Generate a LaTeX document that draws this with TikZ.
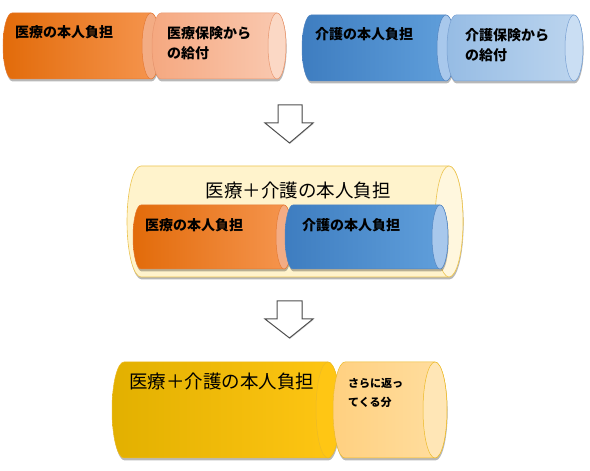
\documentclass[tikz,border=0pt]{standalone}
\usepackage{fontspec}
\usepackage{tikz}
\usetikzlibrary{shadows}
\newfontfamily\jpfont{Noto Sans CJK JP}
\definecolor{colOrgL}{RGB}{226,107,10}
\definecolor{colOrgR}{RGB}{246,150,80}
\definecolor{colOrgFace}{RGB}{243,172,132}
\definecolor{colOrgLine}{RGB}{230,122,50}
\definecolor{colSalL}{RGB}{245,168,128}
\definecolor{colSalR}{RGB}{250,202,178}
\definecolor{colSalFace}{RGB}{251,216,197}
\definecolor{colSalLine}{RGB}{232,150,110}
\definecolor{colBluL}{RGB}{62,125,192}
\definecolor{colBluR}{RGB}{97,160,220}
\definecolor{colBluFace}{RGB}{168,200,236}
\definecolor{colBluLine}{RGB}{82,132,192}
\definecolor{colSkyL}{RGB}{150,188,228}
\definecolor{colSkyR}{RGB}{190,214,239}
\definecolor{colSkyFace}{RGB}{202,222,243}
\definecolor{colSkyLine}{RGB}{120,160,210}
\definecolor{colCream}{RGB}{255,243,204}
\definecolor{colCreamFace}{RGB}{255,247,222}
\definecolor{colCreamLine}{RGB}{236,196,80}
\definecolor{colGoldL}{RGB}{226,176,0}
\definecolor{colGoldR}{RGB}{255,198,20}
\definecolor{colGoldLine}{RGB}{236,186,40}
\definecolor{colPaleL}{RGB}{255,208,128}
\definecolor{colPaleR}{RGB}{255,222,160}
\definecolor{colPaleFace}{RGB}{255,230,182}
\definecolor{colArrow}{RGB}{80,80,80}
\tikzset{
  canshadow/.style={
    drop shadow={shadow xshift=0.6pt, shadow yshift=-2.4pt, opacity=0.28, fill=black}
  },
  orgbody/.style={
    left color=colOrgL, right color=colOrgR, draw=colOrgLine, line width=0.5pt, canshadow
  },
  orgface/.style={fill=colOrgFace, draw=colOrgLine, line width=0.5pt},
  salbody/.style={
    left color=colSalL, right color=colSalR, draw=colSalLine, line width=0.5pt, canshadow
  },
  salface/.style={fill=colSalFace, draw=colSalLine, line width=0.5pt},
  blubody/.style={
    left color=colBluL, right color=colBluR, draw=colBluLine, line width=0.5pt, canshadow
  },
  bluface/.style={fill=colBluFace, draw=colBluLine, line width=0.5pt},
  skybody/.style={
    left color=colSkyL, right color=colSkyR, draw=colSkyLine, line width=0.5pt, canshadow
  },
  skyface/.style={fill=colSkyFace, draw=colSkyLine, line width=0.5pt},
  creambody/.style={
    fill=colCream, draw=colCreamLine, line width=0.6pt, canshadow
  },
  creamface/.style={fill=colCreamFace, draw=colCreamLine, line width=0.6pt},
  goldbody/.style={
    left color=colGoldL, right color=colGoldR, draw=colGoldLine, line width=0.5pt, canshadow
  },
  goldface/.style={fill=colGoldR, draw=colGoldLine, line width=0.5pt},
  palebody/.style={
    left color=colPaleL, right color=colPaleR, draw=colGoldLine, line width=0.5pt, canshadow
  },
  paleface/.style={fill=colPaleFace, draw=colGoldLine, line width=0.5pt},
  blockarr/.style={
    fill=white, draw=colArrow, line width=1pt,
    drop shadow={shadow xshift=0.8pt, shadow yshift=-0.8pt, opacity=0.15, fill=black}
  },
  cantext/.style={
    font=\jpfont\bfseries\fontsize{14}{20}\selectfont, anchor=west, inner sep=0pt, align=left
  },
  smalltext/.style={
    font=\jpfont\bfseries\fontsize{11}{19}\selectfont, anchor=west, inner sep=0pt, align=left
  },
  bigtext/.style={
    font=\jpfont\fontsize{18.5}{22}\selectfont, inner sep=0pt
  },
}
% horizontal can: x1, x2, y top, y bottom, end radius, body style, face style
\newcommand{\drawcan}[7]{%
  \path[#6] ({#1+#5},#3) -- ({#2-#5},#3)
    arc[start angle=90, end angle=-90, x radius=#5, y radius={(#3-#4)/2}]
    -- ({#1+#5},#4)
    arc[start angle=270, end angle=90, x radius=#5, y radius={(#3-#4)/2}]
    -- cycle;
  \path[#7] ({#2-#5},{(#3+#4)/2}) ellipse[x radius=#5, y radius={(#3-#4)/2}];
}
\begin{document}
\begin{tikzpicture}[x=1pt, y=1pt]
\useasboundingbox (0,0) rectangle (590,471);

% ── Row 1: separate shares ─────────────────────────────────────────────────
\drawcan{3}{160}{458}{392}{9}{orgbody}{orgface}
\drawcan{152}{286}{458}{392}{9}{salbody}{salface}
\drawcan{302}{455}{456}{390}{9}{blubody}{bluface}
\drawcan{447}{583}{456}{390}{9}{skybody}{skyface}

\node[cantext] (medSelf) at (15,439) {医療の本人負担};
\node[cantext] (medIns)  at (167,428) {医療保険から\\の給付};
\node[cantext] (carSelf) at (315,437) {介護の本人負担};
\node[cantext] (carIns)  at (465,426) {介護保険から\\の給付};

% ── Arrow 1 ─────────────────────────────────────────────────────────────────
\draw[blockarr] (278,366) -- (302,366) -- (302,348) -- (313,348)
  -- (289.5,328) -- (265,348) -- (278,348) -- cycle;

% ── Row 2: combined share ───────────────────────────────────────────────────
\drawcan{127}{463}{305}{194}{14}{creambody}{creamface}
\drawcan{133}{292}{266}{202}{8}{orgbody}{orgface}
\drawcan{285}{448}{266}{202}{8}{blubody}{bluface}

\node[bigtext] (sumSelf) at (298,280) {医療＋介護の本人負担};
\node[cantext] (medSelfB) at (145,246) {医療の本人負担};
\node[cantext] (carSelfB) at (302,246) {介護の本人負担};

% ── Arrow 2 ─────────────────────────────────────────────────────────────────
\draw[blockarr] (277,170) -- (302,170) -- (302,152) -- (313,152)
  -- (289.5,133) -- (265,152) -- (277,152) -- cycle;

% ── Row 3: refund ───────────────────────────────────────────────────────────
\drawcan{112}{340}{109}{13}{12}{goldbody}{goldface}
\drawcan{333}{447}{109}{13}{12}{palebody}{paleface}

\node[bigtext, anchor=west] (sumSelfB) at (129,89) {医療＋介護の本人負担};
\node[smalltext] (refund) at (348,78.5) {さらに返っ\\てくる分};

\end{tikzpicture}
\end{document}
